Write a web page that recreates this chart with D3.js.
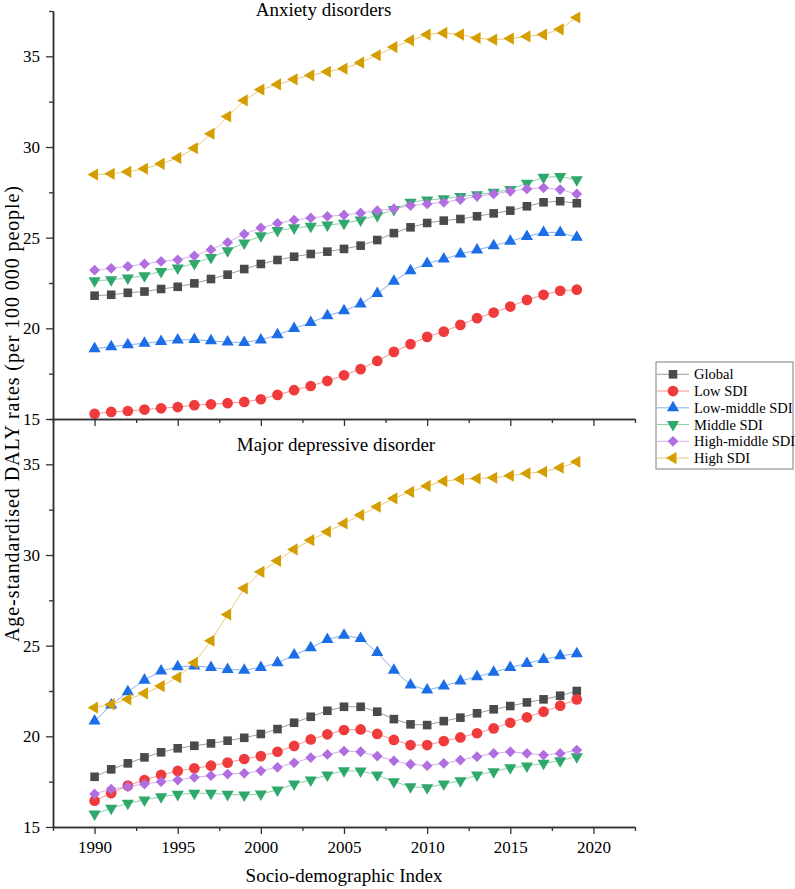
<!DOCTYPE html>
<html>
<head>
<meta charset="utf-8">
<script src="https://cdn.jsdelivr.net/npm/d3@7"></script>
<style>
  body { margin: 0; background: #fff; }
  svg { display: block; }
  svg text { font-family: "Liberation Serif", "Times New Roman", serif; }
</style>
</head>
<body>
<div id="chart"></div>
<script>
// years on the x axis
const years = d3.range(1990, 2020);

const seriesNames = ["Global", "Low SDI", "Low-middle SDI", "Middle SDI", "High-middle SDI", "High SDI"];
const seriesColors = ["#4a4a4a", "#ef3b3c", "#1b6ee6", "#2ea86b", "#b06ee0", "#d49e00"];

// Anxiety disorders
const anxGlobal = [21.80,21.85,21.96,22.03,22.17,22.29,22.48,22.72,22.96,23.27,23.55,23.77,23.95,24.10,24.23,24.38,24.56,24.87,25.25,25.57,25.81,25.94,26.03,26.18,26.34,26.49,26.73,26.95,27.01,26.90];
const anxLow = [15.29,15.39,15.44,15.52,15.59,15.66,15.76,15.81,15.87,15.94,16.09,16.33,16.59,16.82,17.10,17.41,17.75,18.20,18.70,19.13,19.53,19.82,20.19,20.56,20.87,21.20,21.57,21.85,22.07,22.13];
const anxLowMid = [18.88,18.99,19.09,19.18,19.27,19.36,19.38,19.31,19.24,19.22,19.36,19.64,19.99,20.32,20.69,20.97,21.34,21.92,22.60,23.18,23.58,23.82,24.10,24.32,24.56,24.80,25.07,25.29,25.29,25.02];
const anxMid = [22.62,22.68,22.77,22.90,23.14,23.33,23.58,23.91,24.28,24.71,25.11,25.39,25.54,25.63,25.70,25.79,25.97,26.22,26.55,26.95,27.08,27.15,27.27,27.36,27.50,27.65,28.00,28.33,28.37,28.19];
const anxHighMid = [23.21,23.31,23.42,23.55,23.69,23.78,24.00,24.34,24.74,25.20,25.54,25.79,25.97,26.09,26.18,26.25,26.36,26.49,26.60,26.77,26.86,26.95,27.10,27.28,27.41,27.56,27.69,27.75,27.65,27.41];
const anxHigh = [28.48,28.52,28.63,28.80,29.07,29.40,29.93,30.73,31.68,32.57,33.16,33.45,33.73,33.95,34.15,34.32,34.65,35.06,35.51,35.88,36.20,36.29,36.20,36.01,35.92,35.98,36.10,36.20,36.49,37.14];

// Major depressive disorder
const depGlobal = [17.77,18.18,18.51,18.84,19.12,19.34,19.48,19.61,19.76,19.92,20.13,20.40,20.75,21.08,21.41,21.63,21.63,21.36,20.95,20.66,20.62,20.84,21.03,21.27,21.49,21.67,21.87,22.04,22.24,22.50];
const depLow = [16.45,16.86,17.28,17.59,17.87,18.09,18.24,18.38,18.55,18.75,18.91,19.15,19.47,19.83,20.11,20.35,20.38,20.13,19.80,19.52,19.52,19.74,19.94,20.17,20.44,20.75,21.05,21.36,21.69,22.04];
const depLowMid = [20.84,21.73,22.46,23.10,23.60,23.84,23.88,23.80,23.69,23.65,23.80,24.06,24.48,24.88,25.34,25.58,25.40,24.62,23.65,22.83,22.55,22.77,23.05,23.29,23.53,23.80,24.02,24.24,24.44,24.56];
const depMid = [15.72,16.03,16.31,16.49,16.67,16.80,16.86,16.86,16.80,16.76,16.82,17.04,17.37,17.59,17.87,18.10,18.09,17.87,17.50,17.22,17.17,17.37,17.55,17.87,18.05,18.27,18.36,18.51,18.65,18.88];
const depHighMid = [16.82,17.09,17.22,17.37,17.50,17.59,17.74,17.83,17.92,17.96,18.10,18.29,18.54,18.82,19.00,19.19,19.15,18.91,18.65,18.46,18.38,18.51,18.69,18.88,19.06,19.15,19.06,18.97,19.06,19.24];
const depHigh = [21.58,21.76,22.04,22.37,22.77,23.25,24.06,25.27,26.72,28.16,29.07,29.68,30.31,30.82,31.28,31.74,32.20,32.66,33.12,33.48,33.81,34.07,34.18,34.22,34.26,34.37,34.50,34.59,34.81,35.14];

const xMajor = [1990, 1995, 2000, 2005, 2010, 2015, 2020];
const xMinor = [1987.5, 1992.5, 1997.5, 2002.5, 2007.5, 2012.5, 2017.5, 2022.5];
const yMajor = [15, 20, 25, 30, 35];
const yMinor = [17.5, 22.5, 27.5, 32.5, 37.5];

const panels = [
  { title: "Anxiety disorders", series: [anxGlobal, anxLow, anxLowMid, anxMid, anxHighMid, anxHigh] },
  { title: "Major depressive disorder", series: [depGlobal, depLow, depLowMid, depMid, depHighMid, depHigh] }
];

const width = 795, height = 889;
const left = 53, right = 635;
const panelTop = [11, 419], panelBottom = [419, 827];
const titlePos = [[323.5, 16], [336, 451]];
const serif = "'Liberation Serif', 'Times New Roman', serif";

const x = d3.scaleLinear().domain([1987.5, 2022.5]).range([left, right]);

// marker shapes: square, circle, triangle up/down, diamond, triangle left
const symbolDefs = [
  { type: d3.symbolSquare, size: 74, rot: 0 },
  { type: d3.symbolCircle, size: 90, rot: 0 },
  { type: d3.symbolTriangle, size: 64, rot: 0 },
  { type: d3.symbolTriangle, size: 64, rot: 180 },
  { type: d3.symbolSquare, size: 58, rot: 45 },
  { type: d3.symbolTriangle, size: 64, rot: -90 }
];

const svg = d3.select("#chart").append("svg")
  .attr("width", width)
  .attr("height", height)
  .attr("viewBox", [0, 0, width, height]);

function styleAxis(g, labels) {
  g.attr("font-family", serif).attr("font-size", 17);
  g.select(".domain").attr("stroke", "#333").attr("stroke-width", 1.5);
  g.selectAll(".tick line").attr("stroke", "#333").attr("stroke-width", 1.3);
  g.selectAll(".tick text").attr("fill", "#000");
  if (!labels) g.selectAll(".tick text").remove();
}

panels.forEach((p, pi) => {
  const y = d3.scaleLinear().domain([15, 37.5]).range([panelBottom[pi], panelTop[pi]]);
  const g = svg.append("g");

  // series
  p.series.forEach((vals, si) => {
    const pts = years.map((yr, i) => [yr, vals[i]]);
    const color = seriesColors[si];
    g.append("path")
      .datum(pts)
      .attr("fill", "none")
      .attr("stroke", color)
      .attr("stroke-opacity", 0.55)
      .attr("stroke-width", 1)
      .attr("d", d3.line().x(d => x(d[0])).y(d => y(d[1])));
    const sym = symbolDefs[si];
    g.append("g")
      .selectAll("path")
      .data(pts)
      .join("path")
      .attr("fill", color)
      .attr("transform", d => `translate(${x(d[0])},${y(d[1])}) rotate(${sym.rot})`)
      .attr("d", d3.symbol(sym.type, sym.size));
  });

  // y axis
  g.append("g")
    .attr("transform", `translate(${left},0)`)
    .call(d3.axisLeft(y).tickValues(yMajor).tickSize(7).tickSizeOuter(0).tickPadding(6))
    .call(a => styleAxis(a, true));
  g.append("g")
    .attr("transform", `translate(${left},0)`)
    .call(d3.axisLeft(y).tickValues(yMinor).tickSize(4).tickSizeOuter(0).tickFormat(""))
    .call(a => styleAxis(a, false));

  // x axis
  g.append("g")
    .attr("transform", `translate(0,${panelBottom[pi]})`)
    .call(d3.axisBottom(x).tickValues(xMajor).tickSize(7).tickSizeOuter(0).tickPadding(7).tickFormat(d3.format("d")))
    .call(a => styleAxis(a, pi === 1));
  g.append("g")
    .attr("transform", `translate(0,${panelBottom[pi]})`)
    .call(d3.axisBottom(x).tickValues(xMinor).tickSize(4).tickSizeOuter(0).tickFormat(""))
    .call(a => styleAxis(a, false));

  // panel title
  g.append("text")
    .attr("x", titlePos[pi][0])
    .attr("y", titlePos[pi][1])
    .attr("text-anchor", "middle")
    .attr("font-size", 19)
    .text(p.title);
});

// axis titles
svg.append("text")
  .attr("transform", "translate(19,414) rotate(-90)")
  .attr("text-anchor", "middle")
  .attr("font-size", 20)
  .attr("textLength", 456)
  .attr("lengthAdjust", "spacing")
  .text("Age-standardised DALY rates (per 100 000 people)");

svg.append("text")
  .attr("x", (left + right) / 2)
  .attr("y", 882)
  .attr("text-anchor", "middle")
  .attr("font-size", 19)
  .text("Socio-demographic Index");

// legend
const legend = svg.append("g").attr("transform", "translate(656,362)");
legend.append("rect")
  .attr("width", 137)
  .attr("height", 107)
  .attr("fill", "#fff")
  .attr("stroke", "#7f7f7f")
  .attr("stroke-width", 1);

seriesNames.forEach((name, i) => {
  const row = legend.append("g").attr("transform", `translate(0,${12.3 + i * 16.75})`);
  row.append("line")
    .attr("x1", 1).attr("x2", 33)
    .attr("stroke", seriesColors[i])
    .attr("stroke-opacity", 0.55)
    .attr("stroke-width", 1);
  const sym = symbolDefs[i];
  row.append("path")
    .attr("transform", `translate(17,0) rotate(${sym.rot})`)
    .attr("fill", seriesColors[i])
    .attr("d", d3.symbol(sym.type, sym.size));
  row.append("text")
    .attr("x", 38)
    .attr("y", 5)
    .attr("font-size", 14.5)
    .text(name);
});
</script>
</body>
</html>
